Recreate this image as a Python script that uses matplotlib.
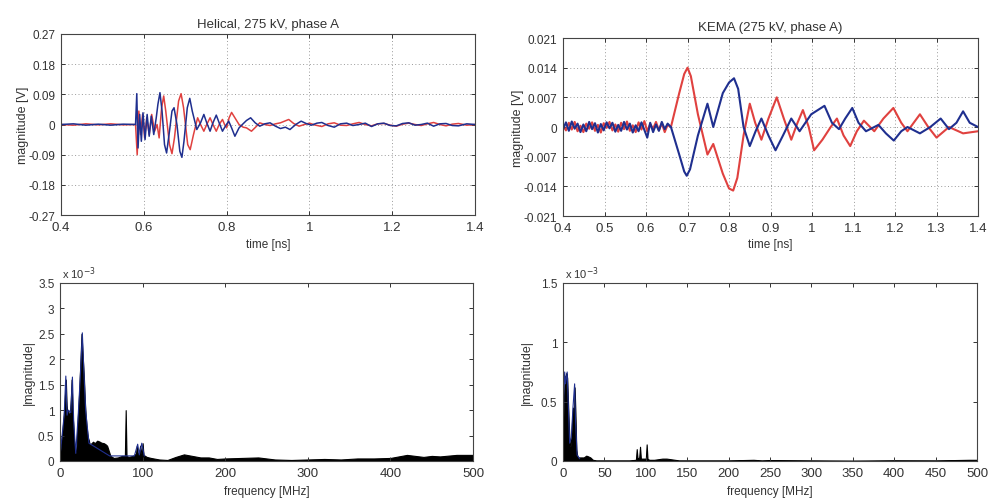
import numpy as np
import matplotlib
matplotlib.use("Agg")
import matplotlib.pyplot as plt

plt.rcParams["font.family"] = ["Liberation Sans", "DejaVu Sans"]
plt.rcParams["axes.unicode_minus"] = False

RED = "#e0413f"
BLUE = "#1f2f8f"
TXT = "#333333"

# --- Helical, 275 kV, phase A (time [ns], magnitude [V]) ---
hel_blue_t = [0.400, 0.430, 0.460, 0.490, 0.520, 0.550, 0.580, 0.583, 0.586, 0.590, 0.594,
              0.598, 0.603, 0.608, 0.613, 0.618, 0.624, 0.630, 0.634, 0.639, 0.644, 0.650,
              0.655, 0.662, 0.668, 0.673, 0.680, 0.687, 0.692, 0.697, 0.705, 0.711, 0.717,
              0.728, 0.737, 0.745, 0.752, 0.760, 0.767, 0.775, 0.782, 0.790, 0.797, 0.805,
              0.812, 0.820, 0.830, 0.838, 0.848, 0.858, 0.869, 0.880, 0.892, 0.905, 0.918,
              0.930, 0.942, 0.953, 0.967, 0.980, 0.992, 1.005, 1.018, 1.030, 1.045, 1.060,
              1.075, 1.090, 1.105, 1.120, 1.135, 1.150, 1.165, 1.180, 1.195, 1.210, 1.225,
              1.240, 1.255, 1.270, 1.285, 1.300, 1.315, 1.330, 1.345, 1.360, 1.380, 1.400]
hel_blue_v = [0.0, 0.002, -0.002, 0.001, -0.002, 0.001, 0.0, 0.092, -0.070, 0.030, -0.050,
              0.035, -0.045, 0.030, -0.035, 0.025, -0.030, 0.020, 0.060, 0.095, 0.040, -0.060,
              -0.085, -0.020, 0.040, 0.050, 0.0, -0.080, -0.098, -0.050, 0.050, 0.078, 0.040,
              -0.015, 0.005, 0.030, 0.005, -0.020, 0.005, 0.028, 0.005, -0.020, -0.005, 0.010,
              -0.010, -0.035, -0.010, 0.0, 0.012, 0.020, 0.005, -0.005, 0.002, 0.005, -0.005,
              -0.012, -0.008, -0.015, 0.0, 0.010, 0.003, -0.002, 0.004, 0.006, -0.003, -0.008,
              0.002, 0.004, -0.003, 0.0, 0.004, -0.006, 0.002, 0.004, -0.003, -0.004, 0.003,
              0.005, -0.002, 0.0, 0.004, -0.005, 0.002, 0.003, -0.003, -0.004, 0.002, 0.0]
hel_red_t = [0.400, 0.430, 0.460, 0.490, 0.520, 0.550, 0.580, 0.584, 0.588, 0.592, 0.597,
             0.602, 0.607, 0.613, 0.619, 0.626, 0.632, 0.637, 0.643, 0.648, 0.653, 0.662,
             0.668, 0.674, 0.684, 0.690, 0.696, 0.706, 0.712, 0.720, 0.730, 0.737, 0.745,
             0.752, 0.760, 0.767, 0.775, 0.782, 0.790, 0.795, 0.800, 0.806, 0.812, 0.820,
             0.830, 0.840, 0.848, 0.860, 0.870, 0.880, 0.892, 0.905, 0.918, 0.930, 0.940,
             0.950, 0.962, 0.975, 0.988, 1.000, 1.015, 1.030, 1.045, 1.060, 1.075, 1.090,
             1.105, 1.120, 1.135, 1.150, 1.165, 1.180, 1.195, 1.210, 1.225, 1.240, 1.255,
             1.270, 1.285, 1.300, 1.315, 1.330, 1.345, 1.360, 1.380, 1.400]
hel_red_v = [0.0, -0.002, 0.002, -0.001, 0.002, -0.001, 0.0, -0.090, 0.040, -0.030, 0.030,
             -0.040, 0.020, -0.030, 0.030, -0.020, 0.0, -0.040, 0.050, 0.085, 0.040, -0.060,
             -0.087, -0.040, 0.070, 0.092, 0.050, -0.060, -0.075, -0.030, 0.020, 0.0, -0.020,
             0.0, 0.020, 0.0, -0.020, 0.0, 0.015, 0.0, -0.010, 0.020, 0.036, 0.020, 0.0,
             -0.008, -0.010, -0.020, -0.008, 0.005, 0.0, -0.003, 0.002, 0.005, 0.010, 0.015,
             0.003, -0.005, 0.0, 0.004, -0.002, -0.006, 0.002, 0.005, -0.002, -0.003, 0.002,
             0.006, 0.0, -0.004, 0.002, 0.003, -0.002, -0.005, 0.001, 0.004, 0.0, -0.003,
             0.002, 0.006, 0.0, -0.004, 0.001, 0.003, -0.002, 0.0]

# --- KEMA (275 kV, phase A) ---
kema_pre_t = [0.400, 0.407, 0.414, 0.421, 0.428, 0.435, 0.442, 0.449, 0.456, 0.463, 0.470,
              0.477, 0.484, 0.491, 0.498, 0.505, 0.512, 0.519, 0.526, 0.533, 0.540, 0.547,
              0.554, 0.561, 0.568, 0.575, 0.582, 0.589, 0.596, 0.603, 0.610, 0.617, 0.624,
              0.631, 0.638, 0.645, 0.652]
kema_red_pre = [0.0004, -0.0008, 0.0010, -0.0006, 0.0012, -0.0010, 0.0003, -0.0012, 0.0008,
                -0.0004, 0.0011, -0.0009, 0.0005, -0.0013, 0.0009, -0.0002, 0.0012, -0.0008,
                0.0006, -0.0011, 0.0010, -0.0005, 0.0013, -0.0009, 0.0004, -0.0012, 0.0011,
                -0.0006, 0.0014, -0.0010, 0.0007, -0.0004, 0.0012, -0.0008, 0.0009, -0.0012,
                0.0005]
kema_blue_pre = [-0.0006, 0.0011, -0.0009, 0.0013, -0.0004, 0.0008, -0.0012, 0.0006, -0.0010,
                 0.0012, -0.0005, 0.0009, -0.0013, 0.0007, -0.0008, 0.0011, -0.0003, 0.0010,
                 -0.0011, 0.0005, -0.0009, 0.0012, -0.0006, 0.0008, -0.0013, 0.0004, -0.0010,
                 0.0011, -0.0007, -0.0025, 0.0010, -0.0012, 0.0006, -0.0009, 0.0012, -0.0005,
                 0.0008]
kema_red_t = [0.660, 0.680, 0.692, 0.700, 0.708, 0.725, 0.748, 0.762, 0.785, 0.800, 0.810,
              0.820, 0.835, 0.850, 0.863, 0.878, 0.895, 0.915, 0.932, 0.950, 0.965, 0.978,
              0.992, 1.005, 1.025, 1.045, 1.060, 1.076, 1.092, 1.108, 1.125, 1.150, 1.172,
              1.196, 1.215, 1.230, 1.260, 1.280, 1.300, 1.330, 1.364, 1.400]
kema_red_v = [0.0, 0.008, 0.0125, 0.014, 0.012, 0.003, -0.0065, -0.004, -0.011, -0.0145,
              -0.015, -0.012, -0.002, 0.0055, 0.001, -0.003, 0.002, 0.007, 0.002, -0.003,
              0.001, 0.004, 0.0, -0.0055, -0.003, 0.0, 0.002, -0.002, -0.0045, -0.001, 0.0015,
              -0.001, 0.002, 0.0045, 0.001, -0.001, 0.003, 0.0, -0.0025, 0.0, -0.0015, -0.001]
kema_blue_t = [0.660, 0.680, 0.692, 0.698, 0.706, 0.725, 0.748, 0.762, 0.785, 0.800, 0.812,
               0.822, 0.835, 0.850, 0.864, 0.878, 0.895, 0.912, 0.930, 0.950, 0.970, 0.998,
               1.030, 1.048, 1.065, 1.080, 1.097, 1.112, 1.130, 1.160, 1.178, 1.197, 1.215,
               1.230, 1.260, 1.285, 1.310, 1.330, 1.348, 1.364, 1.380, 1.400]
kema_blue_v = [0.0, -0.0065, -0.0105, -0.0115, -0.010, -0.002, 0.0055, 0.0, 0.008, 0.0105,
               0.0115, 0.009, 0.0, -0.0045, -0.001, 0.002, -0.002, -0.0055, -0.002, 0.002,
               -0.001, 0.003, 0.005, 0.001, -0.0005, 0.002, 0.0045, 0.001, -0.001, 0.0005,
               -0.0015, -0.0032, -0.001, 0.0, -0.0015, 0.0, 0.002, -0.0005, 0.001, 0.0037,
               0.001, 0.0]

# --- spectra (frequency [MHz], |magnitude| x 1e-3) ---
hel_spec_f = [0, 1, 3, 5, 6, 7, 8, 9, 10, 11, 12, 13, 14, 15, 16, 17, 18, 19, 20, 21, 22, 23,
              24, 25, 26, 27, 28, 29, 30, 31, 32, 33, 34, 35, 36, 38, 40, 42, 45, 48, 50, 53,
              55, 57, 59, 61, 63, 65, 70, 75, 78.5, 79.5, 80.5, 83, 88, 90, 92, 93, 94, 95, 97,
              99, 100, 101, 103, 105, 110, 120, 130, 135, 140, 150, 160, 170, 180, 190, 200,
              220, 240, 250, 260, 280, 300, 320, 340, 360, 380, 400, 420, 440, 450, 460, 480,
              500]
hel_spec_v = [0.1, 0.3, 0.6, 1.0, 1.3, 1.6, 1.1, 0.9, 1.0, 0.85, 0.95, 1.2, 1.6, 1.0, 0.7,
              0.4, 0.2, 0.15, 0.3, 0.7, 1.0, 1.3, 1.7, 2.1, 2.5, 2.2, 1.9, 1.6, 1.2, 0.9, 0.7,
              0.55, 0.45, 0.4, 0.3, 0.35, 0.38, 0.35, 0.4, 0.38, 0.36, 0.35, 0.33, 0.3, 0.2,
              0.1, 0.08, 0.06, 0.07, 0.1, 0.1, 1.0, 0.1, 0.08, 0.1, 0.12, 0.15, 0.3, 0.15, 0.12,
              0.3, 0.1, 0.35, 0.12, 0.1, 0.08, 0.06, 0.03, 0.02, 0.05, 0.08, 0.13, 0.1, 0.07,
              0.07, 0.04, 0.05, 0.06, 0.07, 0.05, 0.03, 0.02, 0.03, 0.04, 0.03, 0.05, 0.05,
              0.06, 0.12, 0.08, 0.1, 0.09, 0.12, 0.12]
hel_spec_blue_f = [0, 5, 7, 8.5, 10, 13, 15, 16.5, 19, 22, 25, 27, 28.5, 31, 35, 60, 90, 94,
                   96, 99, 102]
hel_spec_blue_v = [0.1, 0.9, 1.67, 0.9, 1.0, 0.95, 1.65, 0.8, 0.15, 0.9, 1.8, 2.52, 1.9, 1.0,
                   0.35, 0.1, 0.1, 0.33, 0.12, 0.35, 0.1]

kema_spec_f = [0, 1, 2, 3, 4, 5, 6, 7, 8, 9, 10, 11, 12, 13, 14, 15, 16, 17, 18, 20, 25, 28,
               30, 33, 36, 40, 50, 60, 80, 88, 89, 90, 92, 93, 94, 96, 100, 101, 102, 104,
               110, 120, 125, 130, 140, 150, 200, 230, 240, 250, 300, 350, 400, 450, 490, 500]
kema_spec_v = [0.2, 0.5, 0.72, 0.6, 0.74, 0.7, 0.5, 0.3, 0.15, 0.12, 0.2, 0.35, 0.45, 0.3,
               0.62, 0.4, 0.1, 0.05, 0.03, 0.03, 0.03, 0.045, 0.04, 0.03, 0.01, 0.005, 0.005,
               0.005, 0.005, 0.01, 0.1, 0.02, 0.03, 0.12, 0.02, 0.02, 0.02, 0.14, 0.02, 0.01,
               0.01, 0.02, 0.02, 0.015, 0.005, 0.005, 0.005, 0.01, 0.005, 0.008, 0.005, 0.003,
               0.006, 0.005, 0.01, 0.01]
kema_spec_blue_f = [0, 1, 2, 3, 5, 6, 8, 10, 12, 14, 15, 17, 20]
kema_spec_blue_v = [0.2, 0.6, 0.75, 0.65, 0.75, 0.55, 0.15, 0.2, 0.45, 0.65, 0.35, 0.05, 0.02]

hel_yticks = [-0.27, -0.18, -0.09, 0, 0.09, 0.18, 0.27]
hel_ylabels = ["-0.27", "-0.18", "-0.09", "0", "0.09", "0.18", "0.27"]
hel_xticks = [0.4, 0.6, 0.8, 1.0, 1.2, 1.4]
hel_xlabels = ["0.4", "0.6", "0.8", "1", "1.2", "1.4"]
kema_yticks = [-0.021, -0.014, -0.007, 0, 0.007, 0.014, 0.021]
kema_ylabels = ["-0.021", "-0.014", "-0.007", "0", "0.007", "0.014", "0.021"]
kema_xticks = [0.4, 0.5, 0.6, 0.7, 0.8, 0.9, 1.0, 1.1, 1.2, 1.3, 1.4]
kema_xlabels = ["0.4", "0.5", "0.6", "0.7", "0.8", "0.9", "1", "1.1", "1.2", "1.3", "1.4"]


def style(ax, grid):
    for s in ax.spines.values():
        s.set_color("#444444")
        s.set_linewidth(0.8)
    ax.tick_params(direction="in", top=True, right=True, length=3, width=0.7,
                   colors=TXT)
    ax.tick_params(axis="x", labelsize=9.5, pad=4)
    ax.tick_params(axis="y", labelsize=8.5, pad=4)
    if grid:
        ax.grid(True, color="#9a9a9a", linestyle=(0, (1, 2.5)), linewidth=0.7)


fig = plt.figure(figsize=(9.89, 5.02), dpi=100)

ax1 = fig.add_axes([0.0617, 0.5697, 0.4186, 0.3606])
ax1.plot(hel_red_t, hel_red_v, color=RED, lw=1.1)
ax1.plot(hel_blue_t, hel_blue_v, color=BLUE, lw=1.1)
ax1.set_xlim(0.4, 1.4)
ax1.set_ylim(-0.27, 0.27)
ax1.set_xticks(hel_xticks, hel_xlabels)
ax1.set_yticks(hel_yticks, hel_ylabels)
ax1.set_title("Helical, 275 kV, phase A", fontsize=9.5, color=TXT, pad=5)
ax1.set_xlabel("time [ns]", fontsize=8.5, color=TXT, labelpad=4)
ax1.set_ylabel("magnitude [V]", fontsize=9, color=TXT, labelpad=0)
style(ax1, True)

ax2 = fig.add_axes([0.5693, 0.5677, 0.4196, 0.3546])
ax2.plot(kema_pre_t + kema_red_t, kema_red_pre + kema_red_v, color=RED, lw=1.5)
ax2.plot(kema_pre_t + kema_blue_t, kema_blue_pre + kema_blue_v, color=BLUE, lw=1.5)
ax2.set_xlim(0.4, 1.4)
ax2.set_ylim(-0.021, 0.021)
ax2.set_xticks(kema_xticks, kema_xlabels)
ax2.set_yticks(kema_yticks, kema_ylabels)
ax2.set_title("KEMA (275 kV, phase A)", fontsize=9.5, color=TXT, pad=6)
ax2.set_xlabel("time [ns]", fontsize=8.5, color=TXT, labelpad=3)
ax2.set_ylabel("magnitude [V]", fontsize=9, color=TXT, labelpad=0)
style(ax2, True)

ax3 = fig.add_axes([0.0607, 0.0797, 0.4176, 0.3546])
ax3.plot(hel_spec_blue_f, np.array(hel_spec_blue_v) * 1e-3, color=BLUE, lw=0.8)
ax3.fill_between(hel_spec_f, np.array(hel_spec_v) * 1e-3, color="black", lw=0.8)
ax3.set_xlim(0, 500)
ax3.set_ylim(0, 3.5e-3)
ax3.set_xticks([0, 100, 200, 300, 400, 500])
ax3.set_yticks(np.array([0, 0.5, 1, 1.5, 2, 2.5, 3, 3.5]) * 1e-3,
               ["0", "0.5", "1", "1.5", "2", "2.5", "3", "3.5"])
ax3.set_xlabel("frequency [MHz]", fontsize=8.5, color=TXT, labelpad=5)
ax3.set_ylabel("|magnitude|", fontsize=9, color=TXT, labelpad=2)
ax3.text(0.005, 1.01, r"x 10$^{-3}$", transform=ax3.transAxes, fontsize=8,
         color=TXT, va="bottom")
style(ax3, False)

ax4 = fig.add_axes([0.5693, 0.0797, 0.4186, 0.3546])
ax4.plot(kema_spec_blue_f, np.array(kema_spec_blue_v) * 1e-3, color=BLUE, lw=0.8)
ax4.fill_between(kema_spec_f, np.array(kema_spec_v) * 1e-3, color="black", lw=0.8)
ax4.set_xlim(0, 500)
ax4.set_ylim(0, 1.5e-3)
ax4.set_xticks(range(0, 501, 50))
ax4.set_yticks(np.array([0, 0.5, 1, 1.5]) * 1e-3, ["0", "0.5", "1", "1.5"])
ax4.set_xlabel("frequency [MHz]", fontsize=8.5, color=TXT, labelpad=5)
ax4.set_ylabel("|magnitude|", fontsize=9, color=TXT, labelpad=6)
ax4.text(0.005, 1.01, r"x 10$^{-3}$", transform=ax4.transAxes, fontsize=8,
         color=TXT, va="bottom")
style(ax4, False)

fig.savefig("out.png", dpi=100)
